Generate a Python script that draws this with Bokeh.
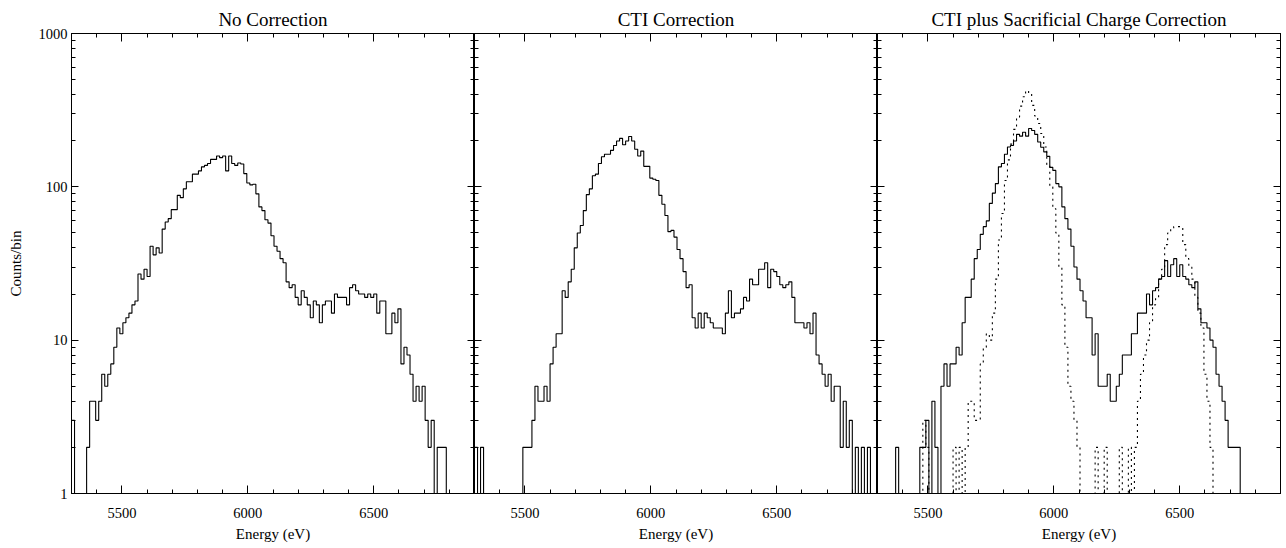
import numpy as np
from bokeh.plotting import figure
from bokeh.layouts import row
from bokeh.models import LinearAxis, LogAxis, FixedTicker, Range1d, NumeralTickFormatter
from bokeh.embed import file_html
from bokeh.resources import INLINE

# ---------------- data (counts per 12 eV bin, starting at 5300 eV) ----------------
BIN_START_EV = 5300
BIN_WIDTH_EV = 12

no_correction = [
    3, 0, 0, 0, 0, 2, 4, 4, 3, 4,
    6, 5, 6, 7, 9, 12, 11, 13, 14, 15,
    17, 18, 27, 25, 29, 26, 41, 36, 40, 37,
    53, 59, 62, 71, 71, 88, 85, 97, 108, 108,
    121, 121, 127, 135, 138, 142, 151, 151, 159, 155,
    159, 127, 159, 142, 138, 143, 141, 122, 106, 103,
    104, 90, 74, 70, 61, 58, 48, 41, 38, 34,
    32, 24, 22, 23, 19, 17, 21, 19, 17, 14,
    18, 17, 13, 17, 18, 18, 15, 20, 19, 19,
    19, 17, 22, 23, 21, 20, 20, 19, 20, 19,
    20, 15, 18, 18, 11, 11, 15, 13, 16, 7,
    9, 8, 6, 4, 5, 4, 5, 3, 2, 3,
    0, 2, 2, 2, 0, 0, 0, 0, 0, 0,
    0, 0, 0,
]

cti_correction = [
    2, 0, 2, 0, 0, 0, 0, 0, 0, 0,
    0, 0, 0, 0, 0, 0, 2, 2, 2, 3,
    5, 4, 4, 5, 4, 7, 9, 11, 11, 21,
    19, 24, 29, 40, 50, 56, 70, 89, 97, 118,
    121, 142, 157, 163, 163, 173, 186, 199, 207, 188,
    199, 213, 199, 176, 159, 171, 136, 136, 114, 112,
    110, 88, 77, 65, 51, 52, 47, 39, 34, 28,
    22, 23, 14, 12, 15, 12, 15, 14, 13, 12,
    12, 12, 11, 15, 21, 14, 15, 15, 16, 19,
    18, 25, 23, 23, 29, 29, 32, 22, 29, 28,
    26, 23, 22, 23, 24, 19, 13, 13, 13, 12,
    13, 11, 15, 8, 7, 6, 5, 6, 4, 5,
    5, 2, 4, 2, 3, 0, 2, 0, 2, 0,
    2, 0, 0,
]

cti_sc_correction = [
    0, 0, 0, 0, 0, 0, 2, 0, 0, 0,
    0, 0, 0, 0, 2, 2, 3, 0, 4, 2,
    0, 5, 7, 5, 7, 7, 9, 8, 13, 19,
    19, 25, 34, 39, 49, 55, 60, 78, 91, 105,
    135, 142, 163, 182, 186, 199, 220, 214, 227, 214,
    240, 233, 220, 196, 181, 169, 158, 134, 128, 105,
    100, 74, 62, 53, 41, 30, 25, 21, 18, 14,
    14, 8, 11, 5, 5, 5, 6, 4, 4, 5,
    6, 8, 8, 8, 11, 11, 15, 15, 15, 20,
    17, 21, 22, 25, 26, 33, 26, 31, 34, 26,
    31, 26, 25, 23, 22, 24, 16, 13, 13, 12,
    10, 9, 6, 5, 4, 3, 2, 2, 2, 2,
    0, 0, 0, 0, 0, 0, 0, 0, 0, 0,
    0, 0, 0,
]

cti_sc_dotted = [
    0, 0, 0, 0, 0, 0, 0, 0, 0, 0,
    0, 0, 0, 0, 0, 3, 2, 0, 0, 0,
    0, 0, 0, 0, 0, 2, 0, 2, 0, 2,
    4, 4, 3, 3, 7, 9, 11, 10, 15, 25,
    45, 67, 110, 150, 190, 237, 285, 336, 387, 423,
    406, 340, 290, 259, 223, 182, 140, 100, 72, 50,
    30, 17, 9, 5, 4, 3, 2, 0, 0, 0,
    0, 0, 2, 0, 0, 2, 0, 0, 0, 0,
    2, 0, 0, 2, 0, 2, 4, 6, 8, 10,
    13, 17, 19, 25, 29, 42, 50, 53, 55, 55,
    55, 42, 34, 30, 25, 19, 15, 12, 6, 4,
    2, 0, 0, 0, 0, 0, 0, 0, 0, 0,
    0, 0, 0, 0, 0, 0, 0, 0, 0, 0,
    0, 0, 0,
]

titles = ["No Correction", "CTI Correction", "CTI plus Sacrificial Charge Correction"]
x_major_ticks = [5500, 6000, 6500]
x_minor_ticks = list(range(5300, 6901, 100))
y_major_ticks = [1, 10, 100, 1000]
y_minor_ticks = [m * 10 ** k for k in range(3) for m in range(2, 10)]

FONT = "Liberation Serif"
Y_MIN = 1


def step_xy(counts):
    c = np.asarray(counts, dtype=float)
    edges = BIN_START_EV + BIN_WIDTH_EV * np.arange(len(c) + 1)
    y = np.maximum(c, Y_MIN)
    y = np.append(y, y[-1])
    return edges, y


def style_axis(ax, major_in, minor_in, show_labels):
    ax.axis_line_color = "black"
    ax.axis_line_width = 1
    ax.major_tick_line_color = "black"
    ax.minor_tick_line_color = "black"
    ax.major_tick_in = major_in
    ax.major_tick_out = 0
    ax.minor_tick_in = minor_in
    ax.minor_tick_out = 0
    ax.major_label_text_font = FONT
    if show_labels:
        ax.major_label_text_font_size = "14.5px"
        ax.major_label_text_color = "black"
    else:
        ax.major_label_text_font_size = "0px"
        ax.major_label_text_color = None
        ax.major_label_standoff = 0


def make_panel(idx, width, min_left, min_right, series):
    p = figure(width=width, height=548,
               x_range=Range1d(5300, 6900), y_range=Range1d(1, 1000),
               y_axis_type="log", output_backend="svg", toolbar_location=None,
               min_border_left=min_left, min_border_right=min_right,
               min_border_top=33, min_border_bottom=55)
    p.background_fill_color = "white"
    p.border_fill_color = "white"
    p.outline_line_color = "black"
    p.grid.visible = False

    p.title.text = titles[idx]
    p.title.align = "center"
    p.title.text_font = FONT
    p.title.text_font_size = "19px"
    p.title.text_font_style = "normal"
    p.title.text_color = "black"
    p.title.standoff = 8

    # bottom axis
    xa = p.xaxis[0]
    xa.ticker = FixedTicker(ticks=x_major_ticks, minor_ticks=x_minor_ticks)
    style_axis(xa, 8, 4, True)
    xa.major_label_standoff = 14
    xa.axis_label = "Energy (eV)"
    xa.axis_label_text_font = FONT
    xa.axis_label_text_font_size = "15px"
    xa.axis_label_text_font_style = "normal"
    xa.axis_label_text_color = "black"
    xa.axis_label_standoff = 5

    # left axis
    ya = p.yaxis[0]
    ya.ticker = FixedTicker(ticks=y_major_ticks, minor_ticks=y_minor_ticks)
    ya.formatter = NumeralTickFormatter(format="0")
    if idx == 0:
        style_axis(ya, 7, 4, True)
        ya.major_label_standoff = 4
        ya.axis_label = "Counts/bin"
        ya.axis_label_text_font = FONT
        ya.axis_label_text_font_size = "15px"
        ya.axis_label_text_font_style = "normal"
        ya.axis_label_text_color = "black"
        ya.axis_label_standoff = 12
    else:
        style_axis(ya, 7, 4, False)

    # top and right axes (ticks only)
    top = LinearAxis(ticker=FixedTicker(ticks=x_major_ticks, minor_ticks=x_minor_ticks))
    style_axis(top, 8, 4, False)
    p.add_layout(top, "above")
    right = LogAxis(ticker=FixedTicker(ticks=y_major_ticks, minor_ticks=y_minor_ticks))
    style_axis(right, 7, 4, False)
    p.add_layout(right, "right")

    for counts, dash in series:
        x, y = step_xy(counts)
        p.step(x=x, y=y, mode="after", line_color="black", line_width=1.1, line_dash=dash)
    return p


p1 = make_panel(0, 474, 71, 0, [(no_correction, "solid")])
p2 = make_panel(1, 403, 0, 0, [(cti_correction, "solid")])
p3 = make_panel(2, 409, 0, 6, [(cti_sc_dotted, "2 4"), (cti_sc_correction, "solid")])

layout = row(p1, p2, p3, spacing=0)
open("out.html", "w").write(file_html(layout, INLINE))
